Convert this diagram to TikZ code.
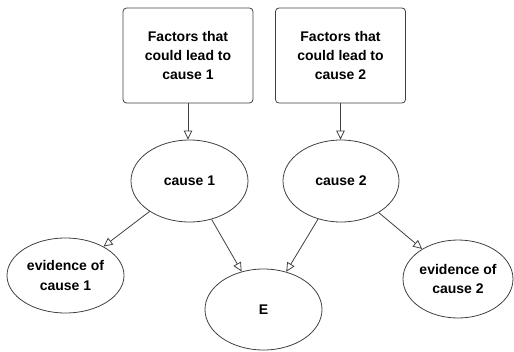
\documentclass[tikz,border=0pt]{standalone}
\usepackage{fontspec}
\setmainfont{Liberation Sans}
\usetikzlibrary{arrows.meta, shapes.geometric}

\begin{document}
\begin{tikzpicture}[x=1pt, y=-1pt, >={Triangle[open, length=9pt, width=8.5pt]},
  factor/.style={draw=black!75, line width=0.8pt, rounded corners=3.5pt,
    minimum width=130pt, minimum height=95pt, align=center,
    font=\bfseries\fontsize{14}{19}\selectfont},
  var/.style={draw=black!75, line width=0.8pt, ellipse, inner sep=0pt,
    align=center, font=\bfseries\fontsize{14}{19.5}\selectfont},
  link/.style={->, black!75, line width=0.8pt}]
  \useasboundingbox (0,0) rectangle (514,351);

  % Facteurs
  \node[factor] (fac1) at (188,55.5) {Factors that\\could lead to\\cause 1};
  \node[factor] (fac2) at (340.5,55.5) {Factors that\\could lead to\\cause 2};

  % Causes
  \node[var, minimum width=117pt, minimum height=82pt] (cause1) at (189.5,181) {cause 1};
  \node[var, minimum width=116pt, minimum height=82pt] (cause2) at (341,181) {cause 2};

  % Evidence and E
  \node[var, minimum width=117pt, minimum height=75pt] (evid1) at (65.5,275.5)
      {evidence of\\cause 1};
  \node[var, minimum width=117pt, minimum height=81pt] (effect) at (263.5,309.5) {E};
  \node[var, minimum width=110pt, minimum height=78pt] (evid2) at (458,279)
      {evidence of\\cause 2};

  % Arrows
  \draw[link] (fac1.south) -- (fac1.south |- cause1.north);
  \draw[link] (fac2.south) -- (fac2.south |- cause2.north);
  \draw[link] (cause1) -- (evid1);
  \draw[link] (cause1) -- (effect);
  \draw[link] (cause2) -- (effect);
  \draw[link] (cause2) -- (evid2);
\end{tikzpicture}
\end{document}
